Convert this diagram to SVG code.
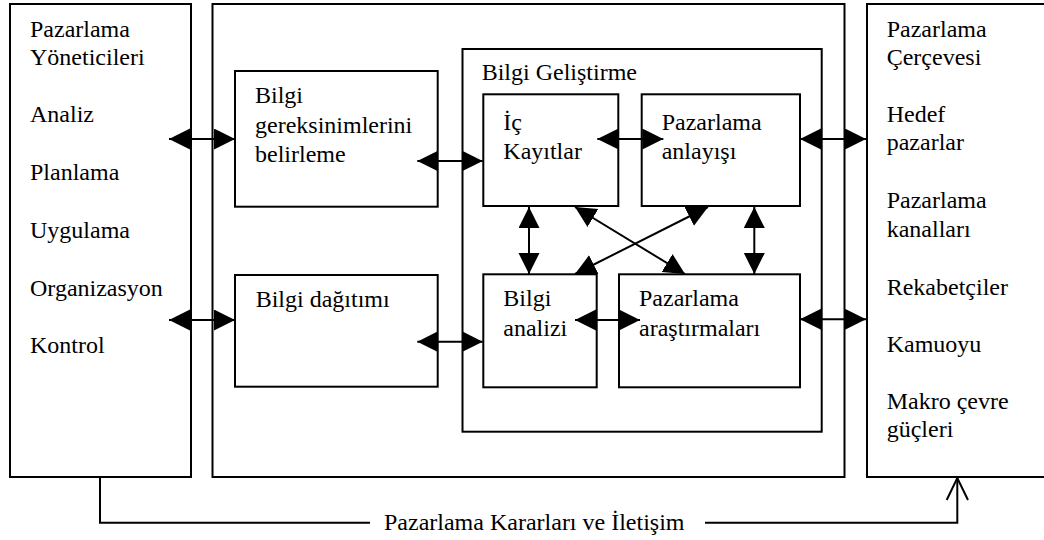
<svg xmlns="http://www.w3.org/2000/svg" width="1044" height="540" viewBox="0 0 1044 540">
  <defs>
    <marker id="head" markerUnits="userSpaceOnUse" markerWidth="22" markerHeight="22" viewBox="0 0 22 22" refX="21" refY="10.5" orient="auto-start-reverse">
      <path d="M0,0 L21,10.5 L0,21 Z" fill="#000"/>
    </marker>
  </defs>
  <rect width="1044" height="540" fill="#fff"/>

  <!-- frames and nodes share one stroke look -->
  <g fill="#fff" stroke="#000" stroke-width="2">
    <g id="yoneticiler">
      <rect x="10" y="4" width="181" height="473"/>
    </g>
    <g id="bilgi-sistemi">
      <rect x="212.5" y="4" width="632" height="473"/>
    </g>
    <g id="cerceve">
      <rect x="867" y="4" width="190" height="473"/>
    </g>
    <g id="gereksinim">
      <rect x="235" y="71" width="202.7" height="135.7"/>
    </g>
    <g id="dagitim">
      <rect x="235" y="275" width="202.7" height="111.7"/>
    </g>
    <g id="gelistirme">
      <rect x="462.5" y="49" width="359.2" height="382.7"/>
    </g>
    <g id="ic-kayitlar">
      <rect x="483.3" y="94.3" width="135" height="111.7"/>
    </g>
    <g id="anlayis">
      <rect x="641.7" y="94.3" width="158.3" height="111.7"/>
    </g>
    <g id="analiz">
      <rect x="483.3" y="274.3" width="113.4" height="113"/>
    </g>
    <g id="arastirma">
      <rect x="619" y="274.3" width="181" height="113"/>
    </g>
  </g>

  <!-- labels -->
  <g fill="#000">
    <text x="30" y="36.7" font-size="24" font-family="serif">Pazarlama</text>
    <text x="30" y="65" font-size="24" font-family="serif">Yöneticileri</text>
    <text x="30" y="122" font-size="24" font-family="serif">Analiz</text>
    <text x="30" y="180" font-size="24" font-family="serif">Planlama</text>
    <text x="30" y="238.3" font-size="24" font-family="serif">Uygulama</text>
    <text x="30" y="296" font-size="24" font-family="serif">Organizasyon</text>
    <text x="30" y="353.3" font-size="24" font-family="serif">Kontrol</text>

    <text x="886.7" y="36.7" font-size="24" font-family="serif">Pazarlama</text>
    <text x="886.7" y="65" font-size="24" font-family="serif">Çerçevesi</text>
    <text x="886.7" y="122" font-size="24" font-family="serif">Hedef</text>
    <text x="886.7" y="150" font-size="24" font-family="serif">pazarlar</text>
    <text x="886.7" y="208" font-size="24" font-family="serif">Pazarlama</text>
    <text x="886.7" y="237" font-size="24" font-family="serif">kanalları</text>
    <text x="886.7" y="295" font-size="24" font-family="serif">Rekabetçiler</text>
    <text x="886.7" y="352" font-size="24" font-family="serif">Kamuoyu</text>
    <text x="886.7" y="409" font-size="24" font-family="serif">Makro çevre</text>
    <text x="886.7" y="437" font-size="24" font-family="serif">güçleri</text>

    <text x="255" y="103.3" font-size="24" font-family="serif">Bilgi</text>
    <text x="255" y="132.7" font-size="24" font-family="serif">gereksinimlerini</text>
    <text x="255" y="161.7" font-size="24" font-family="serif">belirleme</text>

    <text x="255.7" y="306.7" font-size="24" font-family="serif">Bilgi dağıtımı</text>

    <text x="481.7" y="80" font-size="24" font-family="serif">Bilgi Geliştirme</text>

    <text x="503.3" y="129.5" font-size="24" font-family="serif">İç</text>
    <text x="503.3" y="158.5" font-size="24" font-family="serif">Kayıtlar</text>

    <text x="661.7" y="129.5" font-size="24" font-family="serif">Pazarlama</text>
    <text x="661.7" y="158.5" font-size="24" font-family="serif">anlayışı</text>

    <text x="503.3" y="306" font-size="24" font-family="serif">Bilgi</text>
    <text x="503.3" y="336" font-size="24" font-family="serif">analizi</text>

    <text x="639" y="306" font-size="24" font-family="serif">Pazarlama</text>
    <text x="639" y="336" font-size="24" font-family="serif">araştırmaları</text>

    <text x="384" y="529.5" font-size="24" font-family="serif">Pazarlama Kararları ve İletişim</text>
  </g>

  <!-- two-way connectors -->
  <g id="connectors" fill="none" stroke="#000" stroke-width="2">
    <g marker-start="url(#head)" marker-end="url(#head)">
      <line x1="169" y1="139" x2="235" y2="139"/>
      <line x1="169" y1="320" x2="235" y2="320"/>
      <line x1="417.3" y1="161" x2="482.7" y2="161"/>
      <line x1="417.3" y1="341.7" x2="482.7" y2="341.7"/>
      <line x1="597.3" y1="139" x2="663.3" y2="139"/>
      <line x1="575" y1="320" x2="640" y2="320"/>
      <line x1="800" y1="139" x2="866" y2="139"/>
      <line x1="800" y1="319.3" x2="866" y2="319.3"/>
      <line x1="529" y1="207" x2="529" y2="274"/>
      <line x1="754.3" y1="207" x2="754.3" y2="274"/>
      <line x1="575" y1="207" x2="685" y2="274"/>
      <line x1="708" y1="207" x2="575" y2="274"/>
    </g>
    <!-- decision / communication loop -->
    <polyline points="100,477 100,522.7 370,522.7"/>
    <polyline points="705,522.7 957.3,522.7 957.3,478"/>
    <polyline points="946.7,500 957.3,478 968,500"/>
  </g>
</svg>
